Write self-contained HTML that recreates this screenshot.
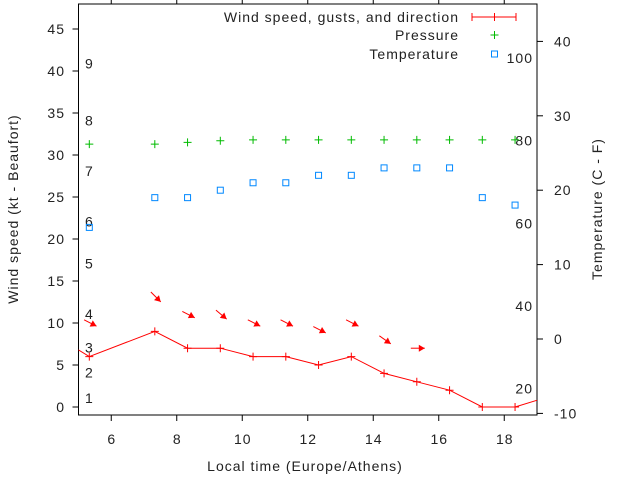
<!DOCTYPE html>
<html><head><meta charset="utf-8"><style>
body{margin:0;background:#fff}
svg{display:block;font-family:"Liberation Sans",sans-serif}
text{font-size:14px;fill:#222;letter-spacing:1px}
</style></head><body>
<svg id="chart" width="640" height="480" xmlns="http://www.w3.org/2000/svg">
<g id="g"></g>
</svg>
<script>
const times=[4.33,5.33,7.33,8.33,9.33,10.33,11.33,12.33,13.33,14.33,15.33,16.33,17.33,18.33,19.33];
const windSpeed=[8.4,6,9,7,7,6,6,5,6,4,3,2,0,0,1.2];
const pressTimes=[5.33,7.33,8.33,9.33,10.33,11.33,12.33,13.33,14.33,15.33,16.33,17.33,18.33];
const pressure=[31.3,31.3,31.5,31.7,31.8,31.8,31.8,31.8,31.8,31.8,31.8,31.8,31.8];
const temperature=[15,19,19,20,21,21,22,22,23,23,23,19,18];
const arrowTimes=[5.33,7.33,8.33,9.33,10.33,11.33,12.33,13.33,14.33,15.33];
const arrowLevel=[10,13.1,11,11,10,10,9.2,10,8,7];
const arrowAngle=[27,45,27,40,27,27,27,27,35,0];
const xTicks=[6,8,10,12,14,16,18];
const yTicks=[0,5,10,15,20,25,30,35,40,45];
const y2Ticks=[-10,0,10,20,30,40];
const beaufort=[[1,1.1],[2,4.1],[3,7.1],[4,11.1],[5,17.1],[6,22.1],[7,28.1],[8,34.1],[9,40.9]];
const fahrenheit=[20,40,60,80,100];

const L=78.5,R=537,T=4,B=415;
const X=t=>L+(t-5)*(R-L)/14;
const Y=v=>407-v*8.4;
const Y2=c=>339-c*7.44;
const ns="http://www.w3.org/2000/svg";
const g=document.getElementById('g');
function el(tag,attrs,parent){const e=document.createElementNS(ns,tag);for(const k in attrs)e.setAttribute(k,attrs[k]);(parent||g).appendChild(e);return e;}
function txt(x,y,s,anchor){const e=el('text',{x:x,y:y,'text-anchor':anchor||'start'});e.textContent=s;return e;}

const defs=el('defs',{});const cp=el('clipPath',{id:'clip'},defs);el('rect',{x:L,y:T,width:R-L,height:B-T},cp);

const frame=el('rect',{x:L,y:T,width:R-L,height:B-T,fill:'none',stroke:'#000','stroke-width':1});



xTicks.forEach(t=>{
 const x=X(t);
 el('line',{x1:x,y1:B,x2:x,y2:B+6,stroke:'#000'});
 el('line',{x1:x,y1:T,x2:x,y2:T-6,stroke:'#000'});
 const e=txt(x+0.5,444,String(t),'middle');
 
 
});
yTicks.forEach(v=>{
 const y=Y(v);
 el('line',{x1:L,y1:y,x2:L-6,y2:y,stroke:'#000'});
 const e=txt(65,y+5,String(v),'end');
 
 
});
y2Ticks.forEach(c=>{
 const y=Y2(c);
 el('line',{x1:R,y1:y,x2:R+6,y2:y,stroke:'#000'});
 const e=txt(554,y+5,String(c),'start');
 
 
});
beaufort.forEach(([b,v])=>{
 const e=txt(85,Y(v)+5,String(b),'start');
 
 
});
fahrenheit.forEach(f=>{
 const e=txt(533,Y2((f-32)*5/9)+5,String(f),'end');
 
 
});

let e=txt(0,0,'Wind speed (kt - Beaufort)','middle');
e.setAttribute('transform','translate(18,209) rotate(-90)');


e=txt(0,0,'Temperature (C - F)','middle');
e.setAttribute('transform','translate(602,209) rotate(-90)');


e=txt(305,471,'Local time (Europe/Athens)','middle');



const plot=el('g',{'clip-path':'url(#clip)'});
const pts=times.map((t,i)=>X(t)+','+Y(windSpeed[i])).join(' ');
const wl=el('polyline',{points:pts,fill:'none',stroke:'#f00','stroke-width':1},plot);


times.forEach((t,i)=>{
 const x=X(t),y=Y(windSpeed[i]);
 const p=el('path',{d:`M${x-4},${y}H${x+4}M${x},${y-4}V${y+4}`,stroke:'#f00'},plot);
 
 
});
arrowTimes.forEach((t,i)=>{
 const cx=X(t)+1,cy=Y(arrowLevel[i]);
 const a=arrowAngle[i]*Math.PI/180,len=14;
 const dx=Math.cos(a)*len/2,dy=Math.sin(a)*len/2;
 const x1=cx-dx,y1=cy-dy,x2=cx+dx,y2=cy+dy;
 const grp=el('g',{},plot);
 
 
 el('line',{x1:x1,y1:y1,x2:x2,y2:y2,stroke:'#f00'},grp);
 const hx=Math.cos(a),hy=Math.sin(a),h=6,w=3.5;
 const bx=x2-hx*h,by=y2-hy*h;
 el('polygon',{points:`${x2},${y2} ${bx-hy*w},${by+hx*w} ${bx+hy*w},${by-hx*w}`,fill:'#f00'},grp);
});
pressTimes.forEach((t,i)=>{
 const x=X(t),y=Y(pressure[i]);
 const p=el('path',{d:`M${x-4},${y}H${x+4}M${x},${y-4}V${y+4}`,stroke:'#0b0'},plot);
 
 
});
pressTimes.forEach((t,i)=>{
 const x=X(t),y=Y2(temperature[i]);
 const r=el('rect',{x:x-3,y:y-3,width:6,height:6,fill:'none',stroke:'#08f'},plot);
 
 
});

const leg=el('g',{});


[['Wind speed, gusts, and direction',22],['Pressure',40],['Temperature',59]].forEach(([s,y])=>{
 const t=el('text',{x:459,y:y,'text-anchor':'end'},leg);t.textContent=s;
 
 
});
el('path',{d:'M472,17H516M472,13V21M494.5,13V21M516,13V21',stroke:'#f00'},leg);
el('path',{d:'M490.5,35H498.5M494.5,31V39',stroke:'#0b0'},leg);
el('rect',{x:491.5,y:51,width:6,height:6,fill:'none',stroke:'#08f'},leg);
</script>
</body></html>
